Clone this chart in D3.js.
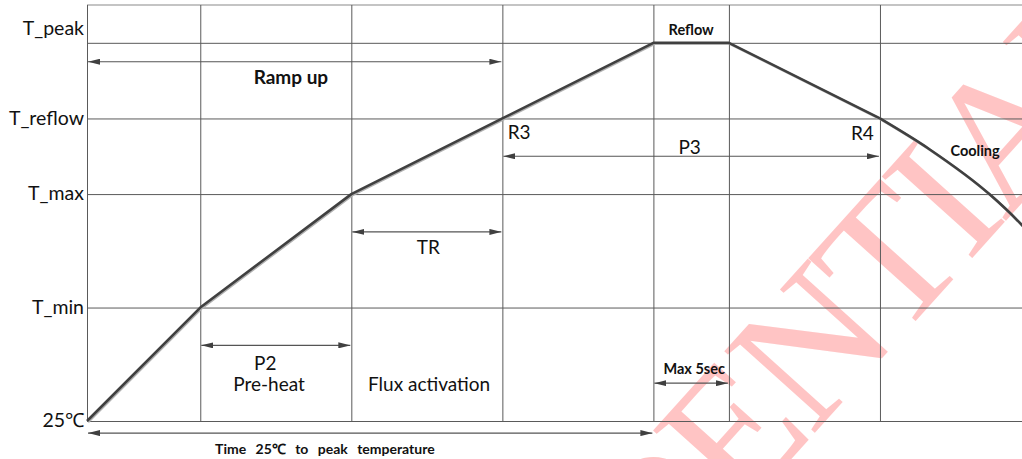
<!DOCTYPE html>
<html><head><meta charset="utf-8">
<script src="https://cdn.jsdelivr.net/npm/d3@7"></script>
<style>body{margin:0;background:#fff}svg{display:block}</style>
</head><body>
<svg id="c" width="1022" height="459"></svg>
<script>
// ---- data ----
const levelLabels = ["25℃", "T_min", "T_max", "T_reflow", "T_peak"];
const levelValues = [0, 1.5, 3, 4, 5];
const timeMarks = [0, 1.5, 3.5, 5.5, 7.5, 8.5, 10.5];
const profileTime = [0, 1.5, 3.5, 5.5, 7.5, 8.5, 10.5];
const profileTemp = [0, 1.5, 3, 4, 5, 5, 4];
const coolingTime = [10.5, 11.16, 11.96, 12.38, 12.5];
const coolingTemp = [4, 3.59, 2.99, 2.59, 2.46];
const spanLabels = ["Ramp up", "P3", "TR", "P2", "Max 5sec", "Time 25℃ to peak temperature"];
const spanFrom = [0, 5.5, 3.5, 1.5, 7.5, 0];
const spanTo = [5.5, 10.5, 5.5, 3.5, 8.5, 7.5];
const pointLabels = ["R3", "R4", "Reflow", "Cooling", "Pre-heat", "Flux activation"];
const watermark = "CONFIDENTIAL";

// ---- scales ----
const svg = d3.select("#c");
const x = d3.scaleLinear().domain([0, 12.5]).range([87, 87 + 12.5 * 75.52]);
const y = d3.scaleLinear().domain([0, 5.5]).range([421, 5]);
const FONT = "Lato, 'Open Sans', sans-serif";
const dark = "#404040", grid = "#5a5a5a";

// watermark (behind)
const WM = 186;
const probe = svg.append("text").attr("font-family", "'Liberation Serif', serif").attr("font-size", WM).text("CONFID");
const pw = probe.node().getComputedTextLength();
probe.remove();
const deg = 48, ang = deg * Math.PI / 180;
const ex = 740, ey = 516;
svg.append("text")
  .attr("font-family", "'Liberation Serif', serif").attr("font-size", WM)
  .attr("fill", "#ffc4c4").attr("letter-spacing", -7)
  .attr("transform", `translate(${ex - (pw - 42) * Math.cos(ang)},${ey + (pw - 42) * Math.sin(ang)}) rotate(${-deg})`)
  .text(watermark);

// horizontal grid + labels
const gy = svg.append("g").attr("transform", `translate(${x(0)},0)`)
  .call(d3.axisLeft(y).tickValues(levelValues).tickFormat((d, i) => levelLabels[i])
    .tickSize(-(1022 - x(0))).tickPadding(3));
gy.select(".domain").remove();
gy.selectAll(".tick line").attr("stroke", grid).attr("stroke-width", 1);
gy.selectAll(".tick text").attr("font-family", FONT).attr("font-size", 19.5).attr("fill", "#111")
  .attr("dy", (d) => d === 5 ? "-0.45em" : "0.3em");
// top border
svg.append("line").attr("x1", x(0)).attr("x2", 1022).attr("y1", y(5.5)).attr("y2", y(5.5))
  .attr("stroke", "#8a8a8a").attr("stroke-width", 1.2);

// vertical grid
const gx = svg.append("g").attr("transform", `translate(0,${y(0)})`)
  .call(d3.axisBottom(x).tickValues(timeMarks).tickFormat("").tickSize(-(y(0) - y(5.5))));
gx.select(".domain").remove();
gx.selectAll(".tick line").attr("stroke", grid).attr("stroke-width", 1);

// arrow markers
const defs = svg.append("defs");
defs.append("marker").attr("id", "ah").attr("viewBox", "0 0 12 6").attr("refX", 12).attr("refY", 3)
  .attr("markerWidth", 12).attr("markerHeight", 6).attr("markerUnits", "userSpaceOnUse").attr("orient", "auto-start-reverse")
  .append("path").attr("d", "M0,0L12,3L0,6Z").attr("fill", dark);

// span arrows
const spanLevels = [4.75, 3.5, 2.5, 1.0, 0.5, -0.16];
spanLabels.forEach((lab, i) => {
  svg.append("line").attr("x1", x(spanFrom[i]) + 1).attr("x2", x(spanTo[i]) - 1)
    .attr("y1", y(spanLevels[i])).attr("y2", y(spanLevels[i]))
    .attr("stroke", "#555").attr("stroke-width", 1.2)
    .attr("marker-start", "url(#ah)").attr("marker-end", "url(#ah)");
});

// texts
function txt(t, px, py, size, weight, anchor) {
  return svg.append("text").attr("x", px).attr("y", py).attr("font-family", FONT)
    .attr("font-size", size).attr("font-weight", weight || "normal").attr("fill", "#111")
    .attr("text-anchor", anchor || "middle").attr("dominant-baseline", "central").text(t);
}
const R = 19;
txt(spanLabels[0], x(2.7), y(4.56), 19, "bold");
txt(spanLabels[1], x(7.98), y(3.63), R);
txt(spanLabels[2], x(4.52), y(2.31), R);
txt(spanLabels[3], x(2.36), y(0.78), R);
txt(spanLabels[4], x(8.04), y(0.69), 14.5, "bold");
txt(spanLabels[5], x(3.15), y(-0.37), 14, "bold").attr("word-spacing", 6);
txt(pointLabels[0], x(5.57), y(3.83), R, "normal", "start");
txt(pointLabels[1], x(10.42), y(3.81), R, "normal", "end");
txt(pointLabels[2], x(8.0), y(5.17), 14.5, "bold");
txt(pointLabels[3], x(11.76), y(3.57), 14.5, "bold");
txt(pointLabels[4], x(2.41), y(0.50), R);
txt(pointLabels[5], x(4.53), y(0.50), R);

// profile line
const line = d3.line().x(d => x(d[0])).y(d => y(d[1]));
const pts = profileTime.map((t, i) => [t, profileTemp[i]]);
const cool = coolingTime.map((t, i) => [t, coolingTemp[i]]);
const lineC = d3.line().x(d => x(d[0])).y(d => y(d[1])).curve(d3.curveMonotoneX);
[[1, "#b0b0b0"], [0, dark]].forEach(([o, c]) => {
  const g = svg.append("g").attr("transform", `translate(${o},${o})`);
  g.append("path").attr("d", line(pts)).attr("fill", "none").attr("stroke", c).attr("stroke-width", 2.6).attr("stroke-linejoin", "round");
  g.append("path").attr("d", lineC(cool)).attr("fill", "none").attr("stroke", c).attr("stroke-width", 2.6);
});
</script>
</body></html>
